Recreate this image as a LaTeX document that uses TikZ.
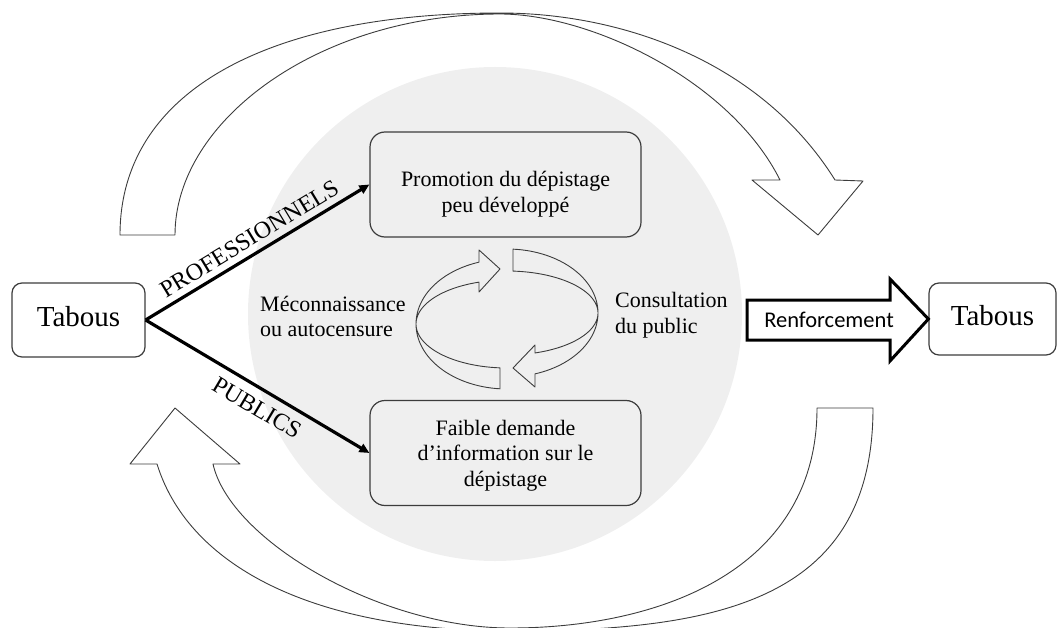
\documentclass[tikz,border=0pt]{standalone}
\usepackage{fontspec}
\setmainfont{Liberation Serif}
\newfontfamily\calibfont{Carlito}
\usetikzlibrary{arrows.meta}
\definecolor{circgray}{RGB}{239,239,239}
\definecolor{edgegray}{RGB}{60,60,60}
\begin{document}
\begin{tikzpicture}[x=1pt,y=-1pt,
  tabbox/.style={draw=edgegray, line width=1.2pt, rounded corners=10pt, fill=white, text depth=8pt, font=\fontsize{29}{34}\selectfont},
  mainbox/.style={draw=edgegray, line width=1.2pt, rounded corners=15pt, minimum width=271pt, minimum height=105pt},
  boxtext/.style={align=center, font=\fontsize{22}{25.5}\selectfont, inner sep=0pt},
  sidetext/.style={align=left, font=\fontsize{22}{25.5}\selectfont, inner sep=0pt, anchor=west},
  flow/.style={line width=3.2pt, -{Triangle[length=10pt,width=9pt]}},
  caplabel/.style={font=\fontsize{24}{28}\selectfont, sloped},
  ribbon/.style={draw=edgegray, line width=0.9pt, fill=white, line join=round},
  cyclearr/.style={draw=edgegray, line width=0.9pt, line join=round},
  blockarrow/.style={draw=black, line width=3pt, fill=white}
]
\useasboundingbox (0,0) rectangle (1059,628);
\clip (0,0) rectangle (1059,628);
% grey disc
\fill[circgray] (495,314) circle [radius=247pt];
% top curved arrow
\draw[ribbon] (120,235) .. controls (120,90) and (270,13) .. (500,13)
  .. controls (620,13) and (760,60) .. (835,180)
  -- (863,181) -- (818,235) -- (752,180) -- (780,180)
  .. controls (730,80) and (590,14) .. (500,14)
  .. controls (320,14) and (175,120) .. (175,235) -- cycle;
% bottom curved arrow
\draw[ribbon] (873,408) .. controls (873,600) and (720,631) .. (510,631)
  .. controls (320,631) and (190,570) .. (157,464)
  -- (130,464) -- (175,408) -- (240,464) -- (213,464)
  .. controls (230,540) and (380,628) .. (510,628)
  .. controls (660,628) and (817,570) .. (817,408) -- cycle;
% small cycle
\draw[cyclearr] (500,269) -- (479,250)
  -- plot[domain=107.9:265.6, samples=60, variable=\t] ({507+91*cos(\t)},{324-65*sin(\t)})
  -- plot[domain=265.6:107.9, samples=60, variable=\t] ({507+91*cos(\t)},{324-44*sin(\t)})
  -- (479,292) -- cycle;
\draw[cyclearr] plot[domain=86.2:-72.1, samples=60, variable=\t] ({507+91*cos(\t)},{313-64*sin(\t)})
  -- (535,387) -- (513,368) -- (535,345)
  -- plot[domain=-72.1:86.2, samples=60, variable=\t] ({507+91*cos(\t)},{313-42*sin(\t)}) -- cycle;
% boxes
\node[tabbox, minimum width=133pt, minimum height=74pt] (ltab) at (78.5,320) {Tabous};
\node[tabbox, minimum width=127pt, minimum height=72pt] (rtab) at (992.5,319) {Tabous};
\node[mainbox] (promo) at (505.5,184.5) {};
\node[boxtext] (promotxt) at (505.5,194) {Promotion du dépistage\\peu développé};
\node[mainbox] (faible) at (505.5,453) {};
\node[boxtext] (faibletxt) at (505.5,455.5) {Faible demande\\d’information sur le\\dépistage};
\node[sidetext] (mecon) at (260,316.5) {Méconnaissance\\ou autocensure};
\node[sidetext] (consult) at (615,315) {Consultation\\du public};
% flows
\draw[flow] (ltab.east) -- node[caplabel, above, inner sep=6pt, pos=0.5] (lprof) {PROFESSIONNELS} (promo.west);
\draw[flow] (ltab.east) -- node[caplabel, below, inner sep=9pt, pos=0.54] (lpub) {PUBLICS} (faible.west);
% reinforcement arrow
\draw[blockarrow] (747,300) -- (890,300) -- (890,279) -- (rtab.west) -- (890,361) -- (890,340) -- (747,340) -- cycle;
\node[font=\calibfont\fontsize{22.5}{27}\selectfont, inner sep=0pt] (renf) at (829,320) {Renforcement};
\end{tikzpicture}
\end{document}
